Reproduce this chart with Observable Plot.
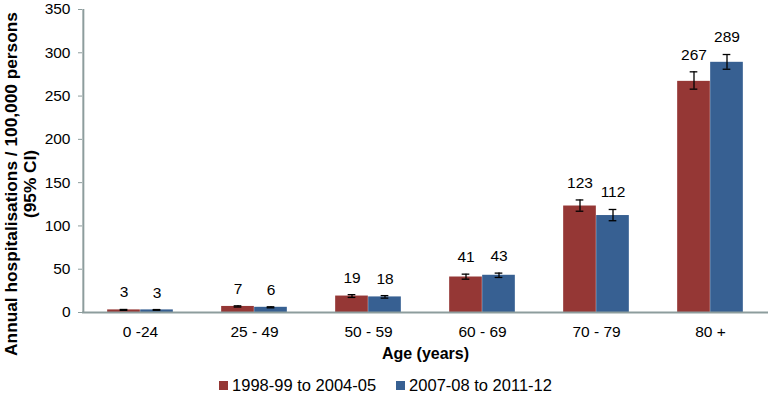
<!DOCTYPE html>
<html>
<head>
<meta charset="utf-8">
<script src="https://cdn.jsdelivr.net/npm/d3@7"></script>
<script src="https://cdn.jsdelivr.net/npm/@observablehq/plot@0.6"></script>
<style>
  html, body { margin: 0; padding: 0; background: #fff; }
  #chart { width: 771px; height: 407px; font-family: "Liberation Sans", Arial, sans-serif; }
  #legend { display: flex; justify-content: center; align-items: center; gap: 20px; height: 20px; margin-top: 9px; font-size: 16.5px; color: #000; }
  #legend .item { display: flex; align-items: center; gap: 4px; }
  #legend .sw { width: 9px; height: 9px; display: inline-block; }
</style>
</head>
<body>
<div id="chart"></div>
<script>
// ---- data ----
const ages = ["0 -24", "25 - 49", "50 - 59", "60 - 69", "70 - 79", "80 +"];
const seriesNames = ["1998-99 to 2004-05", "2007-08 to 2011-12"];
const rate1 = [3, 7, 19, 41, 123, 267];
const low1  = [2.5, 6.3, 17.4, 38.5, 117, 258];
const high1 = [3.5, 7.7, 20.6, 44.3, 130, 278];
const rate2 = [3, 6, 18, 43, 112, 289];
const low2  = [2.6, 5.4, 16.6, 40.5, 106, 281];
const high2 = [3.4, 6.6, 19.5, 45.5, 119, 298];
const yTicks = [0, 50, 100, 150, 200, 250, 300, 350];
const yTitle = "Annual hospitalisations / 100,000 persons\n(95% CI)";
const xTitle = "Age (years)";
const colors = ["#953735", "#376092"];

// ---- layout ----
const W = 771, H = 366, mL = 82, mR = 3, mT = 9, mB = 54;
const step = (W - mL - mR) / ages.length;
const barW = 33, capW = 8;
const gray = "#8d9d9d";

const rows1 = ages.map((a, i) => ({age: a, v: rate1[i], lo: low1[i], hi: high1[i]}));
const rows2 = ages.map((a, i) => ({age: a, v: rate2[i], lo: low2[i], hi: high2[i]}));

function seriesMarks(rows, k) {
  const sign = k === 0 ? -1 : 1;
  const off = sign * barW / 2;
  const cx = step / 2 + off; // bar centre from band left
  const barL = k === 0 ? step / 2 - barW : step / 2;
  return [
    Plot.barY(rows, {x: "age", y: "v", fill: colors[k], insetLeft: barL, insetRight: step - barL - barW}),
    Plot.ruleX(rows, {x: "age", y1: "lo", y2: "hi", dx: off, stroke: "#000", strokeWidth: 1.3}),
    Plot.tickY(rows, {x: "age", y: "lo", stroke: "#000", strokeWidth: 1.3, insetLeft: cx - capW / 2, insetRight: step - cx - capW / 2}),
    Plot.tickY(rows, {x: "age", y: "hi", stroke: "#000", strokeWidth: 1.3, insetLeft: cx - capW / 2, insetRight: step - cx - capW / 2}),
    Plot.text(rows, {x: "age", y: "hi", text: d => String(d.v), dx: off, dy: -17, fontSize: 15.5, fill: "#000", lineAnchor: "middle"})
  ];
}

const plot = Plot.plot({
  width: W, height: H,
  marginLeft: mL, marginRight: mR, marginTop: mT, marginBottom: mB,
  style: {fontFamily: "'Liberation Sans', Arial, sans-serif", background: "#fff", color: "#000"},
  x: {domain: ages, padding: 0, axis: null},
  y: {domain: [0, 350], axis: null},
  marks: [
    ...seriesMarks(rows1, 0),
    ...seriesMarks(rows2, 1),
    Plot.ruleY([0], {stroke: gray, strokeWidth: 2}),
    Plot.ruleX([ages[0]], {y1: 0, y2: 350, dx: -step / 2, stroke: gray, strokeWidth: 2}),
    Plot.axisY({ticks: yTicks, tickSize: 4, tickPadding: 8, label: null, fontSize: 15.5, stroke: gray, fill: "#000"}),
    Plot.axisX({tickSize: 0, tickPadding: 13, label: null, fontSize: 15.5, fill: "#000"}),
    Plot.text([xTitle], {frameAnchor: "bottom", dy: 41, fontSize: 16, fontWeight: "bold", fill: "#000", lineAnchor: "middle", textAnchor: "middle"}),
    Plot.text([yTitle], {frameAnchor: "left", dx: -62, dy: 23, rotate: -90, fontSize: 17.3, fontWeight: "bold", fill: "#000", lineAnchor: "middle", textAnchor: "middle", lineHeight: 1.1})
  ]
});

const chart = document.getElementById("chart");
chart.appendChild(plot);

const legend = document.createElement("div");
legend.id = "legend";
seriesNames.forEach((name, k) => {
  const item = document.createElement("div");
  item.className = "item";
  const sw = document.createElement("span");
  sw.className = "sw";
  sw.style.background = colors[k];
  const t = document.createElement("span");
  t.textContent = name;
  item.appendChild(sw);
  item.appendChild(t);
  legend.appendChild(item);
});
chart.appendChild(legend);
</script>
</body>
</html>
